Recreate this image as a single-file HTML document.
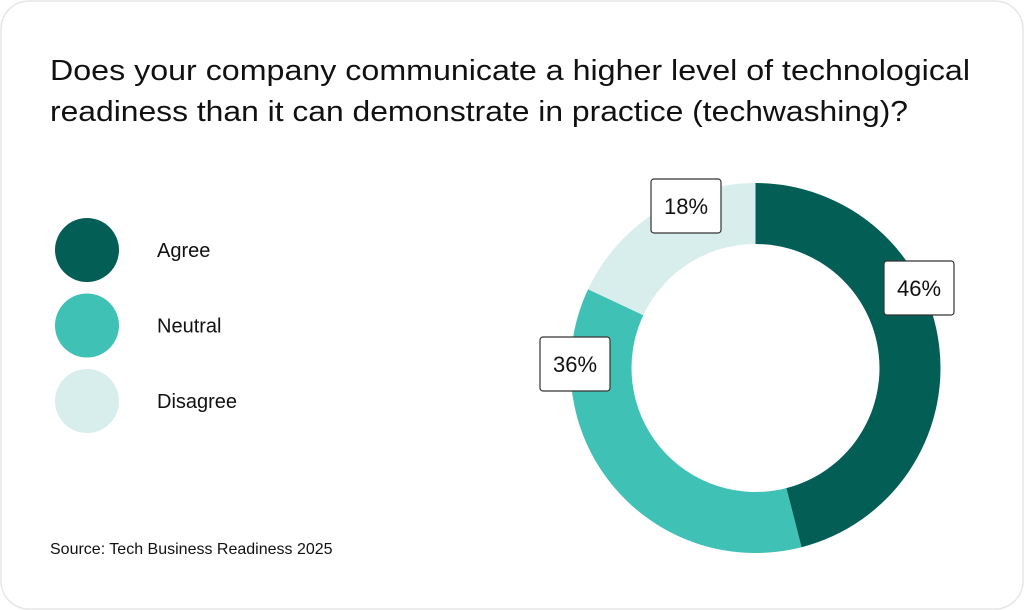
<!DOCTYPE html>
<html><head><meta charset="utf-8"><style>
html,body{margin:0;padding:0;background:#fff;}
svg{display:block;font-family:"Liberation Sans",sans-serif;}
</style></head><body>
<svg width="1024" height="610" viewBox="0 0 1024 610">
<rect x="1" y="1" width="1022" height="608" rx="28" fill="#fff" stroke="#e6e6e6" stroke-width="1.5"/>
<text x="50" y="80" font-size="29" font-weight="500" fill="#111" textLength="920" lengthAdjust="spacingAndGlyphs">Does your company communicate a higher level of technological</text>
<text x="50" y="121" font-size="29" font-weight="500" fill="#111" textLength="858" lengthAdjust="spacingAndGlyphs">readiness than it can demonstrate in practice (techwashing)?</text>
<g id="legend"></g>
<g id="donut"></g>
<g id="labels"></g>
<text x="50" y="554" font-size="16" fill="#111">Source: Tech Business Readiness 2025</text>
</svg>
<script>
const categories = ["Agree","Neutral","Disagree"];
const values = [46,36,18];
const valueLabels = ["46%","36%","18%"];
const colors = ["#035e55","#40c1b6","#d8eeec"];
const labelPos = [[919,288],[575,364],[686,206]];
const NS="http://www.w3.org/2000/svg";
const cx=755.5, cy=368, R=185, r=124;
const total=values.reduce((a,b)=>a+b,0);
function pt(a,rad){return [cx+rad*Math.sin(a), cy-rad*Math.cos(a)];}
const donut=document.getElementById('donut');
let acc=0;
values.forEach((v,i)=>{
  const a0=acc/total*2*Math.PI; acc+=v; const a1=acc/total*2*Math.PI;
  const large=(a1-a0)>Math.PI?1:0;
  const p0=pt(a0,R),p1=pt(a1,R),q1=pt(a1,r),q0=pt(a0,r);
  const p=document.createElementNS(NS,'path');
  p.setAttribute('d',`M${p0[0]},${p0[1]} A${R},${R} 0 ${large} 1 ${p1[0]},${p1[1]} L${q1[0]},${q1[1]} A${r},${r} 0 ${large} 0 ${q0[0]},${q0[1]} Z`);
  p.setAttribute('fill',colors[i]);
  
  
  donut.appendChild(p);
});
const labels=document.getElementById('labels');
valueLabels.forEach((t,i)=>{
  const [x,y]=labelPos[i];
  const g=document.createElementNS(NS,'g');
  
  
  const b=document.createElementNS(NS,'rect');
  b.setAttribute('x',x-35);b.setAttribute('y',y-27);b.setAttribute('width',70);b.setAttribute('height',54);b.setAttribute('rx',3);
  b.setAttribute('fill','#fff');b.setAttribute('stroke','#333');b.setAttribute('stroke-width','1.2');
  
  
  const tx=document.createElementNS(NS,'text');
  tx.setAttribute('x',x);tx.setAttribute('y',y+8);tx.setAttribute('text-anchor','middle');tx.setAttribute('font-size','22');tx.setAttribute('fill','#111');
  
  
  tx.textContent=t;
  g.appendChild(b);g.appendChild(tx);labels.appendChild(g);
});
const legend=document.getElementById('legend');
categories.forEach((c,i)=>{
  const y=250+i*75.5;
  const g=document.createElementNS(NS,'g');
  
  
  const ci=document.createElementNS(NS,'circle');
  ci.setAttribute('cx',87);ci.setAttribute('cy',y);ci.setAttribute('r',32);ci.setAttribute('fill',colors[i]);
  
  
  const t=document.createElementNS(NS,'text');
  t.setAttribute('x',157);t.setAttribute('y',y+7);t.setAttribute('font-size','20');t.setAttribute('fill','#111');
  
  
  t.textContent=c;
  g.appendChild(ci);g.appendChild(t);legend.appendChild(g);
});
</script>
</body></html>
